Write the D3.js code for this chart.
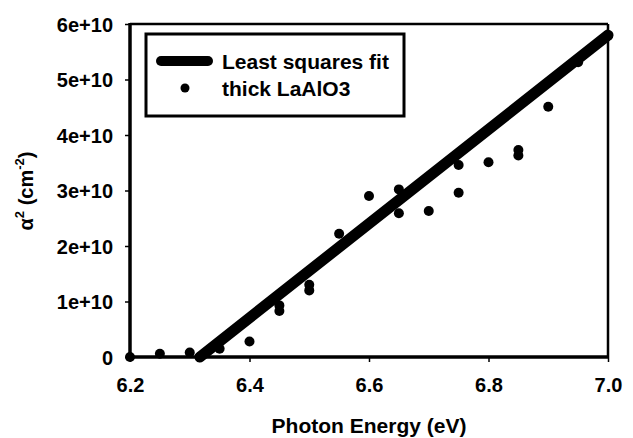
<!DOCTYPE html>
<html>
<head>
<meta charset="utf-8">
<script src="https://cdn.jsdelivr.net/npm/d3@7/dist/d3.min.js"></script>
<style>
  html, body { margin: 0; padding: 0; background: #fff; }
  svg { display: block; font-family: "Liberation Sans", Arial, Helvetica, sans-serif; font-weight: bold; }
</style>
</head>
<body>
<svg id="chart" width="633" height="438"></svg>
<script>
// ---- data ----
const energy = [6.2, 6.25, 6.3, 6.317, 6.35, 6.4, 6.45, 6.45, 6.5, 6.5, 6.55, 6.6, 6.65, 6.65, 6.7, 6.75, 6.75, 6.8, 6.85, 6.85, 6.9, 6.95, 7.0];
const alpha2 = [0, 0.06e10, 0.08e10, 0, 0.15e10, 0.28e10, 0.93e10, 0.83e10, 1.3e10, 1.2e10, 2.22e10, 2.9e10, 3.02e10, 2.59e10, 2.63e10, 3.46e10, 2.96e10, 3.51e10, 3.73e10, 3.63e10, 4.51e10, 5.31e10, 5.79e10];
const fitEnergy = [6.317, 7.0];
const fitAlpha2 = [0, 5.8e10];
const xTicks = [6.2, 6.4, 6.6, 6.8, 7.0];
const xTickLabels = ["6.2", "6.4", "6.6", "6.8", "7.0"];
const yTicks = [0, 1e10, 2e10, 3e10, 4e10, 5e10, 6e10];
const yTickLabels = ["0", "1e+10", "2e+10", "3e+10", "4e+10", "5e+10", "6e+10"];
const legendLabels = ["Least squares fit", "thick LaAlO3"];

// ---- layout ----
const svg = d3.select("#chart");
const L = 130, R = 608, T = 24, B = 357;
const x = d3.scaleLinear().domain([6.2, 7.0]).range([L, R]);
const y = d3.scaleLinear().domain([0, 6e10]).range([B, T]);

// frame (top and right)
svg.append("line").attr("x1", L).attr("x2", R).attr("y1", T).attr("y2", T)
  .attr("stroke", "#000").attr("stroke-width", 2.5);
svg.append("line").attr("x1", R).attr("x2", R).attr("y1", T).attr("y2", B)
  .attr("stroke", "#000").attr("stroke-width", 2.5);

// axes
const xAxis = d3.axisBottom(x).tickValues(xTicks)
  .tickFormat((d, i) => xTickLabels[i]).tickSizeInner(5).tickSizeOuter(0).tickPadding(16);
const yAxis = d3.axisLeft(y).tickValues(yTicks)
  .tickFormat((d, i) => yTickLabels[i]).tickSizeInner(5).tickSizeOuter(0).tickPadding(12);

const gx = svg.append("g").attr("transform", `translate(0,${B})`).call(xAxis);
const gy = svg.append("g").attr("transform", `translate(${L},0)`).call(yAxis);
[gx, gy].forEach(g => {
  g.select(".domain").attr("stroke", "#000").attr("stroke-width", 3.5);
  g.selectAll(".tick line").attr("stroke", "#000").attr("stroke-width", 1.5);
  g.selectAll(".tick text").attr("fill", "#000").attr("font-family", "Liberation Sans, Arial, sans-serif")
    .attr("font-weight", "bold");
});
gx.selectAll(".tick text").attr("font-size", 20);
gy.selectAll(".tick text").attr("font-size", 20).attr("dy", "0.35em");
gx.select(".domain").attr("d", `M${L - 1.5},0H${R + 1}`);
gy.select(".domain").attr("d", `M0,${T - 1}V${B + 1.5}`);

// fit line
const line = d3.line().x(d => x(d[0])).y(d => y(d[1]));
svg.append("path")
  .datum(fitEnergy.map((e, i) => [e, fitAlpha2[i]]))
  .attr("d", line).attr("fill", "none").attr("stroke", "#000")
  .attr("stroke-width", 11).attr("stroke-linecap", "round");

// data points
svg.append("g").selectAll("circle")
  .data(energy.map((e, i) => [e, alpha2[i]]))
  .join("circle")
  .attr("cx", d => x(d[0])).attr("cy", d => y(d[1])).attr("r", 5).attr("fill", "#000");

// legend
const lg = svg.append("g");
lg.append("rect").attr("x", 146).attr("y", 34).attr("width", 258).attr("height", 82)
  .attr("fill", "#fff").attr("stroke", "#000").attr("stroke-width", 3);
lg.append("line").attr("x1", 161).attr("x2", 208).attr("y1", 61).attr("y2", 61)
  .attr("stroke", "#000").attr("stroke-width", 10).attr("stroke-linecap", "round");
lg.append("circle").attr("cx", 185).attr("cy", 88).attr("r", 4.5).attr("fill", "#000");
lg.append("text").attr("x", 222).attr("y", 69).attr("font-size", 21).text(legendLabels[0]);
lg.append("text").attr("x", 222).attr("y", 96).attr("font-size", 21).text(legendLabels[1]);

// axis titles
svg.append("text").attr("x", (L + R) / 2).attr("y", 433).attr("text-anchor", "middle")
  .attr("font-size", 21).text("Photon Energy (eV)");

const yt = svg.append("text").attr("transform", "translate(33,191) rotate(-90)")
  .attr("text-anchor", "middle").attr("font-size", 20);
yt.append("tspan").text("α");
yt.append("tspan").attr("font-size", 13).attr("dy", -9).text("2");
yt.append("tspan").attr("dy", 9).text(" (cm");
yt.append("tspan").attr("font-size", 13).attr("dy", -9).text("-2");
yt.append("tspan").attr("dy", 9).text(")");
</script>
</body>
</html>
